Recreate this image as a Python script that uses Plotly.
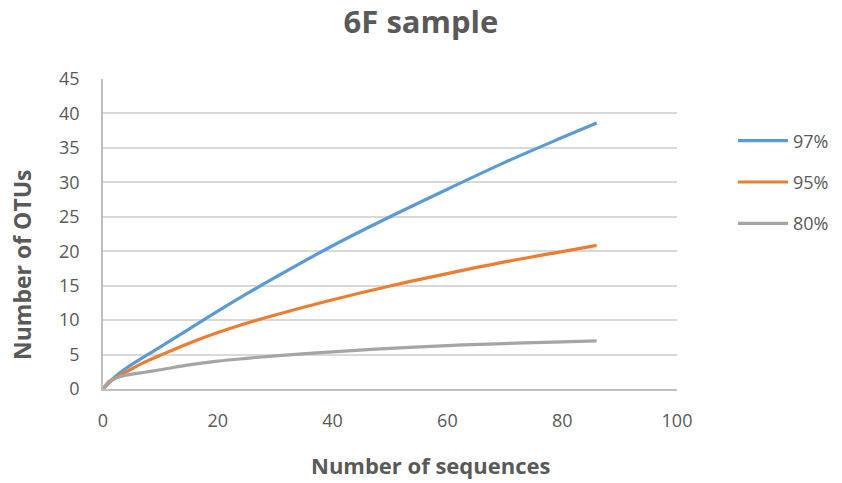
import plotly.graph_objects as go

# Rarefaction data: number of sequences sampled vs. OTUs found at each identity cutoff
sequences = [0, 1, 2, 4, 7, 10, 15, 20, 25, 30, 40, 50, 60, 70, 80, 86]
otus_97 = [0, 0.9, 1.7, 3.0, 4.6, 6.1, 8.7, 11.3, 13.8, 16.2, 20.8, 25.0, 29.0, 32.9, 36.5, 38.6]
otus_95 = [0, 0.9, 1.55, 2.45, 3.8, 4.9, 6.65, 8.2, 9.55, 10.75, 12.95, 14.95, 16.75, 18.45, 19.95, 20.85]
otus_80 = [0, 1.1, 1.5, 2.0, 2.4, 2.8, 3.5, 4.05, 4.45, 4.8, 5.4, 5.9, 6.3, 6.6, 6.85, 7.0]

series = [
    ("97%", otus_97, "#5B9BD5"),
    ("95%", otus_95, "#ED7D31"),
    ("80%", otus_80, "#A5A5A5"),
]

FONT = "Open Sans, Lato, sans-serif"
TEXT = "#595959"

fig = go.Figure()
for i, (name, ys, color) in enumerate(series):
    fig.add_trace(go.Scatter(
        x=sequences, y=ys, name=name, mode="lines",
        line=dict(color=color, width=3.2, shape="spline", smoothing=1.0),
        legendgroup=f"g{i}",
    ))

fig.update_layout(
    width=842, height=483,
    paper_bgcolor="white", plot_bgcolor="white",
    margin=dict(l=103, r=165, t=79, b=94, autoexpand=False),
    font=dict(family=FONT, color=TEXT, size=17),
    title=dict(text="<b>6F sample</b>", x=0.5, xref="container", xanchor="center",
               y=(483 - 22) / 483, yref="container", yanchor="middle",
               font=dict(size=31, color=TEXT, family=FONT)),
    showlegend=True,
    legend=dict(x=(733 - 103) / 574, y=0.86, xanchor="left", yanchor="top",
                font=dict(size=18, color=TEXT), tracegroupgap=15,
                itemwidth=50, traceorder="grouped", bgcolor="rgba(0,0,0,0)"),
    xaxis=dict(range=[0, 100], tick0=0, dtick=20, showgrid=False,
               showline=True, linecolor="#BFBFBF", linewidth=1.5,
               zeroline=False, ticks="", ticklen=0, ticklabelstandoff=15,
               tickfont=dict(size=18, color=TEXT)),
    yaxis=dict(range=[0, 45], tick0=0, dtick=5, showgrid=True,
               gridcolor="#D9D9D9", gridwidth=1.5,
               showline=True, linecolor="#BFBFBF", linewidth=1.5,
               zeroline=False, ticks="", ticklen=0, ticklabelstandoff=18,
               tickfont=dict(size=18, color=TEXT)),
)

# Axis titles placed as annotations
fig.add_annotation(text="<b>Number of sequences</b>", xref="paper", yref="paper",
                   x=(431 - 103) / 574, y=-(465 - 389) / 310, showarrow=False,
                   xanchor="center", yanchor="middle",
                   font=dict(size=22, color=TEXT, family=FONT))
fig.add_annotation(text="<b>Number of OTUs</b>", xref="paper", yref="paper",
                   x=-(103 - 22) / 574, y=(389 - 265) / 310, showarrow=False,
                   textangle=-90, xanchor="center", yanchor="middle",
                   font=dict(size=23, color=TEXT, family=FONT))

fig.write_html("out.html")
